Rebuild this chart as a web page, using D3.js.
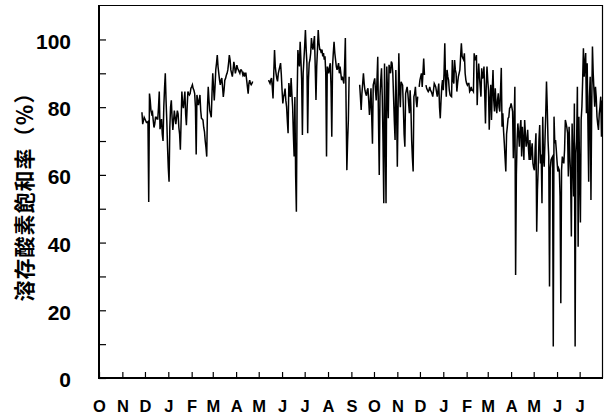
<!DOCTYPE html>
<html>
<head>
<meta charset="utf-8">
<script src="https://cdn.jsdelivr.net/npm/d3@7/dist/d3.min.js"></script>
<style>
  body { margin: 0; background: #fff; }
  svg { display: block; }
</style>
</head>
<body>
<svg id="chart" width="604" height="416"></svg>
<script>
// Daily dissolved-oxygen saturation (%), Oct 2001 – Jul 2003, three logging periods.
const periodStart = "2001-10-01";
const periodEnd = "2003-08-01";

const monthLabels = ["O","N","D","J","F","M","A","M","J","J","A","S","O","N","D","J","F","M","A","M","J","J"];
const yTickValues = [0,10,20,30,40,50,60,70,80,90,100];
const yLabelValues = [0,20,40,60,80,100];
const yTitle = "溶存酸素飽和率（％）";

// Period 1: from 2001-11-27, one value per day
const seg1Start = "2001-11-27";
const seg1Values = [
  78.5,75,76,77,76.5,76,75.5,75.5,75.7,52,
  84,82,79,78,78.5,76,74,75,77,77,
  76.5,76.5,80,84.6,73.5,75,76.5,72,70,80,
  85.6,90,82,76,68,62,58,74,80,82,
  77,73.3,76,79,77,75,77,79,78,74,
  72,67.4,76,84.6,81,79.7,82,84.6,78,74.7,
  80,84.6,84,83.6,84,85.6,86,86.6,85.5,85,
  84,80,66,83.6,82,80.6,82,83.6,79,76.7,
  76.5,76.2,74,72.8,70,68,65.4,80,86,82,
  79,78,77,84,90,86,82,86,91,93,
  95.4,92,90,88,86.6,88,88.6,86,83,85,
  88,88.5,89.4,90,91,93,95.4,94,91,90,
  89,91,93.4,92,90,91,92.4,91.5,91,90.5,
  90,91,91,90.5,89.5,90,89,90,90,88,
  86,84,87,88,87,86.6,87,87.6
];

// Period 2: from 2002-05-14
const seg2Start = "2002-05-14";
const seg2Values = [
  88,87.5,87,88,88.6,86,82.6,90,96.9,92,
  90,88.5,87.6,90,91,92,93,89.6,85,81.1,
  83,84,85.5,82,80.1,76,72.3,87.1,85,83,
  88.6,84,80.1,72,65.4,83,60,49.1,82.6,96.9,
  94,92,99.3,94,88,71.8,90,94,98,102.8,
  97,93,72.3,88,93,94,96,100.4,98,97,
  99,101,92,82.1,92,97,102.8,99,97,97,
  96,97,95,96,94,95,90,65.4,92,91,
  90,92,93,86,71.3,92,96,99.3,96,94,
  92,91,92,93,90,92,90,88,89,88,
  87,92,100.4,80,61.4,70,76.2,89
];

// Period 3: from 2002-09-12 to the end of July 2003 (null = no reading)
const seg3Start = "2002-09-12";
const seg3Values = [
  86.6,83,79.2,84,87,90,87,85,84,83.4,
  85,85.6,82,77.7,81,85.6,77,69.2,86.5,87.5,
  88.5,85,82,88,94.9,76,60,83.1,88,91.5,
  83,70,51.6,92.9,72,51.6,92,84,76.7,92.5,
  91,90,93.5,93,90,83,76,70.3,91,80,
  62.4,80,95.9,85,80,87.5,87,86.5,80,72,
  68.3,84,85,86,84,81,78.2,85,80,70.3,
  65,61,83.1,84,86,82,80,83.1,null,86,
  88,89,90,86,90,94.4,89.5,null,86.5,85.5,
  85,84.6,85,86,85,84.6,84,83.1,85,87,
  86.5,86,84.5,83.1,85,87,80,76.7,82,86,
  88,85,90,98.9,88,83.1,91,89,88,85,
  83.6,83.3,83.1,93.9,88,87,93.9,91,90,84.6,
  87,89,90,91,95,98.9,95,94.5,94,95.9,
  90,88,87,86.5,87,87,84.6,85,86,85,
  85,84.6,95.9,94,94,95.4,80.6,88,92.9,89,
  86,83.1,91.5,88.5,89,92,84,75.2,86,92,
  88,85,73.3,82,86.6,76.2,85,91,82,78.7,
  85.6,81,78.2,82,84.1,80,78.7,85,91.6,74.2,
  78.2,73,69.3,65,61,72,74.2,76.7,77,79.7,
  80,81.1,80,78.7,64.9,75,86,30.4,60,70.3,
  75.2,72,68.3,74,76.2,65.4,74.2,70,64.4,76.2,
  72,68.3,70,73.3,68,64.4,70.3,64.4,67,69.3,
  63.4,62,61.4,68,72.3,43.2,55.6,62,70.3,74.7,
  63.4,66,51.6,77.2,65,62.4,70.3,78,87.6,80,
  70.3,65.4,27,62,64.4,65,65.4,9.3,77.2,69.3,
  70.3,67.4,64,61,62,61.4,53.6,22.1,61.4,65.4,
  64,63.4,67.4,76.2,75.2,74,72.3,59.5,74.2,65.4,
  60,41.8,75.2,65,53.6,81.1,9.3,66.4,70,86,
  38.8,77.2,60,45.9,76.2,80.1,88,97.4,89,93,
  96,78.2,93,75,58,83.1,89,52.6,80,97.9,
  90,85,80.1,86,83.1,77.2,75,73.3,78,80.1,
  83.1,71.3,82
];

const parse = d3.timeParse("%Y-%m-%d");
function toRecords(start, values) {
  const s = parse(start);
  return values.map((v, i) => ({ date: d3.timeDay.offset(s, i), v }));
}
const segments = [
  toRecords(seg1Start, seg1Values),
  toRecords(seg2Start, seg2Values),
  toRecords(seg3Start, seg3Values)
];

const svg = d3.select("#chart");
const plotLeft = 99, plotRight = 603, plotTop = 5, plotBottom = 378;

const x = d3.scaleTime()
  .domain([parse(periodStart), parse(periodEnd)])
  .range([plotLeft, plotRight]);
const y = d3.scaleLinear()
  .domain([0, 110])
  .range([plotBottom, 5.6]);

const tickFont = "'Liberation Sans', Arial, Helvetica, sans-serif";

// Series line
const line = d3.line()
  .defined(d => d.v != null)
  .x(d => x(d.date))
  .y(d => y(d.v));

svg.append("g")
  .selectAll("path")
  .data(segments)
  .join("path")
  .attr("d", line)
  .attr("fill", "none")
  .attr("stroke", "#000")
  .attr("stroke-width", 1.5)
  .attr("stroke-linejoin", "miter");

// Y axis: inward ticks every 10, labels every 20
const yAxis = d3.axisLeft(y)
  .tickValues(yTickValues)
  .tickSize(-7)
  .tickPadding(28)
  .tickFormat(v => yLabelValues.includes(v) ? String(v) : "");
const gy = svg.append("g")
  .attr("transform", `translate(${plotLeft},0)`)
  .call(yAxis);
gy.select(".domain").remove();
gy.selectAll(".tick line").attr("stroke", "#000").attr("stroke-width", 1.2);
gy.selectAll(".tick text")
  .attr("fill", "#000")
  .attr("font-family", tickFont)
  .attr("font-weight", "bold")
  .attr("font-size", 21)
  .attr("dy", "0.42em");

// X axis: month starts with single-letter labels
const months = d3.timeMonth.range(parse(periodStart), parse(periodEnd));
const xAxis = d3.axisBottom(x)
  .tickValues(months)
  .tickSize(-6)
  .tickPadding(22)
  .tickFormat((d, i) => monthLabels[i]);
const gx = svg.append("g")
  .attr("transform", `translate(0,${plotBottom})`)
  .call(xAxis);
gx.select(".domain").remove();
gx.selectAll(".tick line").attr("stroke", "#000").attr("stroke-width", 1.2);
gx.selectAll(".tick text")
  .attr("fill", "#000")
  .attr("font-family", tickFont)
  .attr("font-weight", "bold")
  .attr("font-size", 16.5);

// Frame: heavier left/bottom axes, thin top/right
svg.append("line").attr("x1", plotLeft).attr("x2", plotRight).attr("y1", plotTop + 0.5).attr("y2", plotTop + 0.5)
  .attr("stroke", "#000").attr("stroke-width", 1.2);
svg.append("line").attr("x1", plotRight - 0.5).attr("x2", plotRight - 0.5).attr("y1", plotTop).attr("y2", plotBottom)
  .attr("stroke", "#000").attr("stroke-width", 1.2);
svg.append("line").attr("x1", plotLeft).attr("x2", plotLeft).attr("y1", plotTop).attr("y2", plotBottom + 1)
  .attr("stroke", "#000").attr("stroke-width", 2);
svg.append("line").attr("x1", plotLeft - 1).attr("x2", plotRight).attr("y1", plotBottom).attr("y2", plotBottom)
  .attr("stroke", "#000").attr("stroke-width", 2);

// Y axis title
svg.append("text")
  .attr("transform", `translate(23,${(plotTop + plotBottom) / 2}) rotate(-90)`)
  .attr("text-anchor", "middle")
  .attr("dominant-baseline", "central")
  .attr("font-family", "'Noto Sans CJK JP', 'Noto Sans CJK SC', sans-serif")
  .attr("font-weight", "bold")
  .attr("font-size", 21)
  .attr("letter-spacing", 1)
  .attr("fill", "#000")
  .text(yTitle);
</script>
</body>
</html>
